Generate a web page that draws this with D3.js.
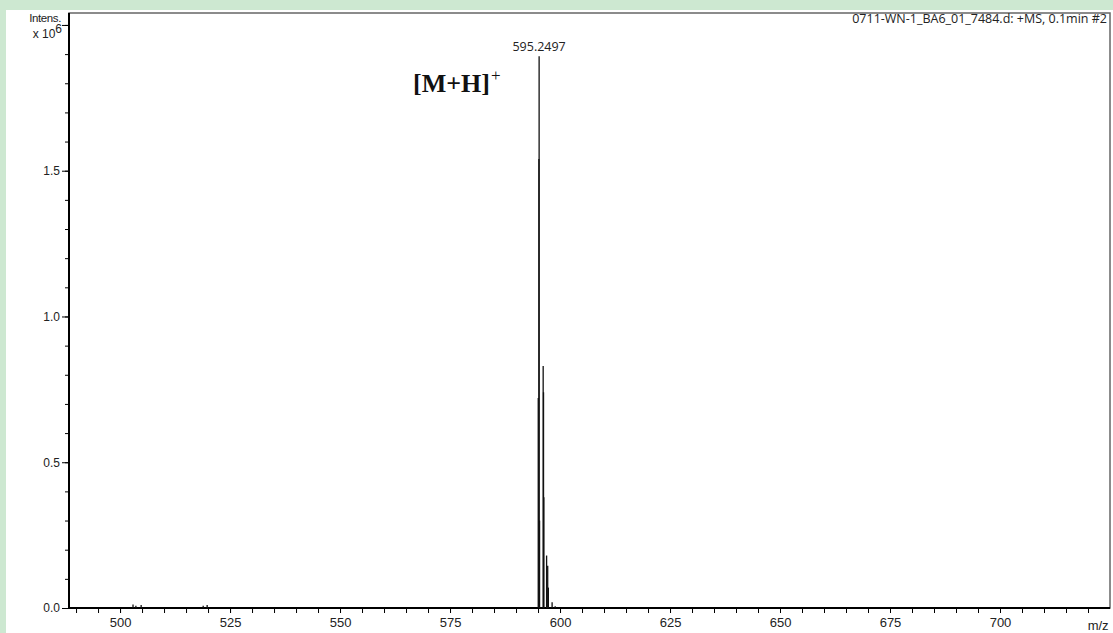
<!DOCTYPE html>
<html>
<head>
<meta charset="utf-8">
<script src="https://cdn.jsdelivr.net/npm/d3@7/dist/d3.min.js"></script>
<style>
  html, body { margin: 0; padding: 0; background: #cde8d1; }
  svg { display: block; }
  text { font-family: Arial, "Liberation Sans", sans-serif; }
</style>
</head>
<body>
<div id="grafico"></div>
<script>
// spectrum sticks (m/z, intensity x10^6)
var mz        = [502.95, 503.6, 504.8, 518.9, 519.8, 595.05, 595.20, 595.25, 595.35, 596.17, 596.25, 596.32, 596.95, 597.2, 597.35, 598.2, 598.9];
var intensity = [0.012, 0.008, 0.010, 0.008, 0.010, 0.72, 1.54, 1.893, 0.30, 0.83, 0.74, 0.38, 0.18, 0.145, 0.07, 0.02, 0.006];

var xTicks = [500, 525, 550, 575, 600, 625, 650, 675, 700];
var yTicks = [0.0, 0.5, 1.0, 1.5];
var peakLabel = "595.2497";
var header = "0711-WN-1_BA6_01_7484.d: +MS, 0.1min #2";

var W = 1113, H = 633;
var margin = {top: 13, right: 3, bottom: 25, left: 69};
var width = W - margin.left - margin.right,
    height = H - margin.top - margin.bottom;

var svg = d3.select("#grafico").append("svg")
    .attr("width", W).attr("height", H);

// white panel
svg.append("rect").attr("x", 6).attr("y", 10).attr("width", W - 6).attr("height", H - 10).attr("fill", "#fff");

var g = svg.append("g").attr("transform", "translate(" + margin.left + "," + margin.top + ")");

var x = d3.scaleLinear().domain([488.4, 725]).range([0, width]);
var y = d3.scaleLinear().domain([0, 2.041]).range([height, 0]);

// frame top / right
g.append("rect").attr("x", 0).attr("y", 0).attr("width", width).attr("height", height)
    .attr("fill", "none").attr("stroke", "#666").attr("stroke-width", 1.5);

// x minor ticks
g.append("g").attr("transform", "translate(0," + height + ")")
    .call(d3.axisBottom(x).tickValues(d3.range(490, 725, 5)).tickSize(5).tickFormat(""))
    .call(function(s) { s.select(".domain").remove(); });

// x axis
var xa = g.append("g").attr("transform", "translate(0," + height + ")")
    .call(d3.axisBottom(x).tickValues(xTicks).tickSize(5).tickPadding(5).tickFormat(d3.format("d")));
xa.select(".domain").attr("stroke-width", 2).attr("d", "M0,0H" + width);
xa.selectAll("text").attr("font-size", 13).attr("fill", "#222");

// y minor ticks
g.append("g")
    .call(d3.axisLeft(y).tickValues(d3.range(0, 2.05, 0.1)).tickSize(4).tickFormat(""))
    .call(function(s) { s.select(".domain").remove(); });

// y axis
var ya = g.append("g")
    .call(d3.axisLeft(y).tickValues(yTicks.concat([2.0])).tickSize(7).tickPadding(2)
        .tickFormat(function(d) { return d === 2.0 ? "" : d3.format(".1f")(d); }));
ya.select(".domain").attr("stroke-width", 2).attr("d", "M0,0V" + height);
ya.selectAll("text").attr("font-size", 12).attr("fill", "#222");

// axis titles
svg.append("text").attr("x", 61).attr("y", 22).attr("text-anchor", "end")
    .attr("font-size", 11.5).attr("fill", "#222").attr("letter-spacing", -0.4).text("Intens.");
var ex = svg.append("text").attr("x", 62).attr("y", 38).attr("text-anchor", "end")
    .attr("font-size", 12).attr("fill", "#222");
ex.append("tspan").text("x 10");
ex.append("tspan").attr("dy", -5).attr("font-size", 12).text("6");

svg.append("text").attr("x", margin.left + x(722.3)).attr("y", 630).attr("text-anchor", "middle")
    .attr("font-size", 13).attr("fill", "#222").text("m/z");

// header
svg.append("text").attr("x", 1107).attr("y", 23).attr("text-anchor", "end")
    .style("font-family", "'Open Sans', sans-serif").attr("font-size", 12.5).attr("fill", "#222").text(header);

// sticks
g.append("g").selectAll("line")
    .data(mz)
    .enter().append("line")
    .attr("x1", function(d) { return x(d); })
    .attr("x2", function(d) { return x(d); })
    .attr("y1", y(0))
    .attr("y2", function(d, i) { return y(intensity[i]); })
    .attr("stroke", "#111")
    .attr("stroke-width", 1.3);

// peak label
var iMax = d3.maxIndex(intensity);
g.append("text").attr("x", x(mz[iMax])).attr("y", y(intensity[iMax]) - 5)
    .attr("text-anchor", "middle").style("font-family", "'Open Sans', sans-serif")
    .attr("font-size", 12.5).attr("fill", "#222").text(peakLabel);

// annotation
var ann = svg.append("text").attr("x", 413).attr("y", 92)
    .style("font-family", "'Liberation Serif', 'Times New Roman', serif").attr("fill", "#111");
ann.append("tspan").attr("font-size", 26).attr("font-weight", "bold").text("[M+H]");
ann.append("tspan").attr("font-size", 17).attr("dy", -11).attr("dx", 1).text("+");
</script>
</body>
</html>
